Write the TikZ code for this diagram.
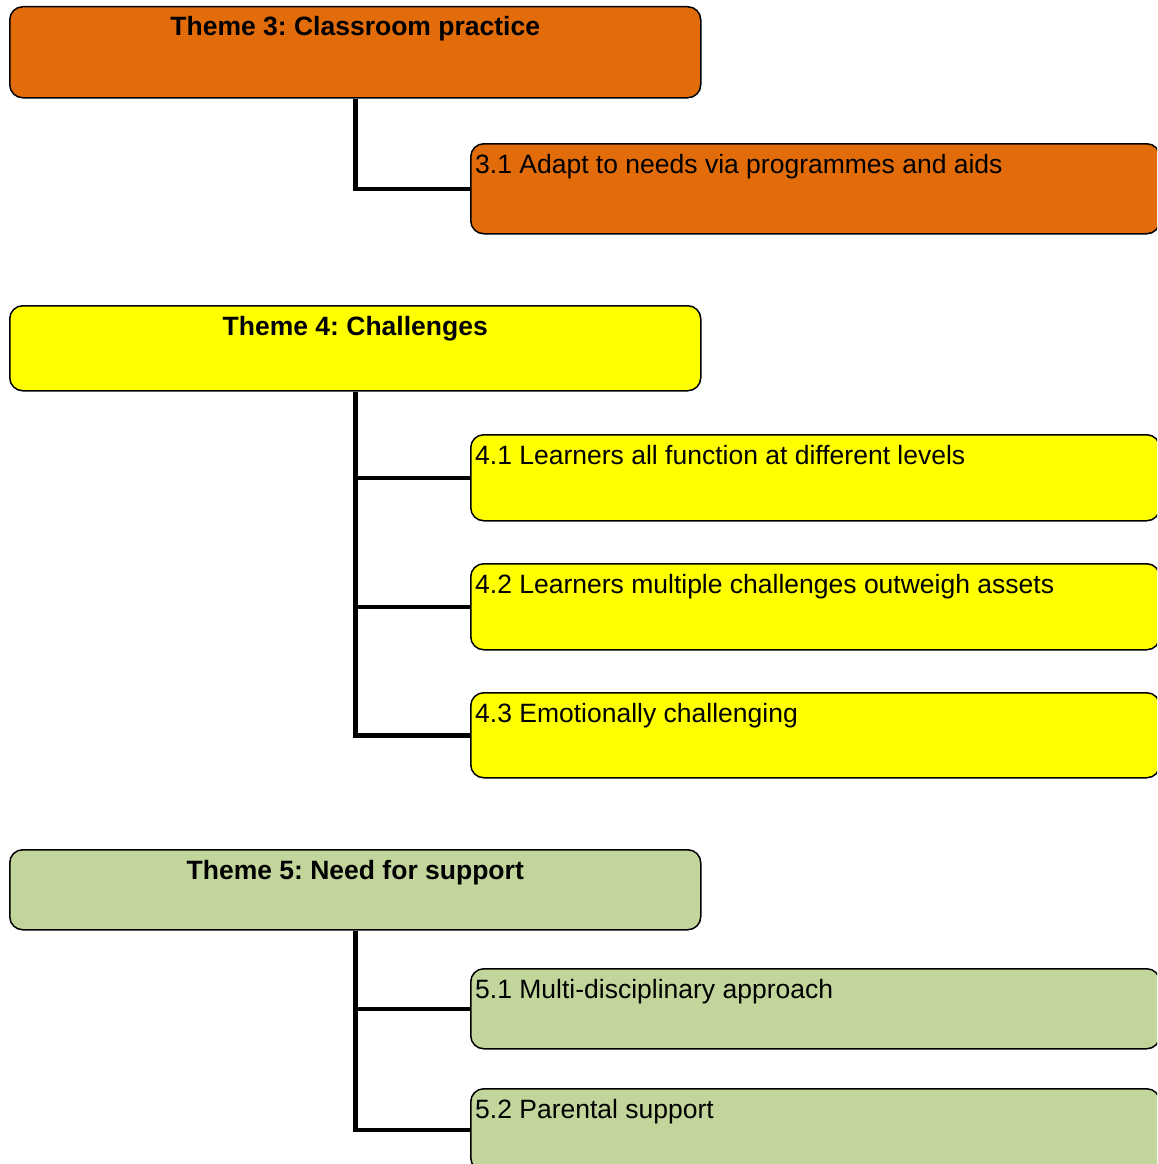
\documentclass[tikz,border=0pt]{standalone}
\usepackage{fontspec}
\setmainfont{Liberation Sans}
\definecolor{orangeT}{HTML}{E36C0A}
\definecolor{yellowT}{HTML}{FFFF00}
\definecolor{greenT}{HTML}{C2D69B}
\frenchspacing
\begin{document}
\begin{tikzpicture}[x=1pt,y=-1pt,
  box/.style={draw=black,line width=1.5pt,rounded corners=13pt,anchor=north west,inner sep=0pt,
    minimum width=691pt},
  sub/.style={draw=black,line width=1.5pt,rounded corners=13pt,anchor=north west,inner sep=0pt,
    minimum width=689pt},
  ttl/.style={anchor=base,inner sep=0pt,font=\fontsize{26.5}{30}\selectfont\bfseries},
  txt/.style={anchor=base west,inner sep=0pt,font=\fontsize{26.5}{30}\selectfont},
  conn/.style={line width=4.5pt,black}]
\clip (0,0) rectangle (1157,1164);
% Theme 3
\node[box,fill=orangeT,minimum height=91pt] (t3) at (9,6) {};
\node[sub,fill=orangeT,minimum height=90pt] (c31) at (470,143) {};
% Theme 4
\node[box,fill=yellowT,minimum height=85pt] (t4) at (9,305) {};
\node[sub,fill=yellowT,minimum height=86pt] (c41) at (470,434) {};
\node[sub,fill=yellowT,minimum height=86pt] (c42) at (470,563) {};
\node[sub,fill=yellowT,minimum height=85pt] (c43) at (470,692) {};
% Theme 5
\node[box,fill=greenT,minimum height=80pt] (t5) at (9,849) {};
\node[sub,fill=greenT,minimum height=80pt] (c51) at (470,968) {};
\node[sub,fill=greenT,minimum height=82pt] (c52) at (470,1088) {};
% connectors
\draw[conn] (t3.south) |- (c31.west);
\draw[conn] (t4.south) |- (c41.west);
\draw[conn] (t4.south) |- (c42.west);
\draw[conn] (t4.south) |- (c43.west);
\draw[conn] (t5.south) |- (c51.west);
\draw[conn] (t5.south) |- (c52.west);
% labels
\node[ttl] (l3) at ([yshift=-30pt]t3.north) {Theme 3: Classroom practice};
\node[txt] (l31) at ([xshift=5pt,yshift=-30.5pt]c31.north west) {3.1 Adapt to needs via programmes and aids};
\node[ttl] (l4) at ([yshift=-30pt]t4.north) {Theme 4: Challenges};
\node[txt] (l41) at ([xshift=5pt,yshift=-30.5pt]c41.north west) {4.1 Learners all function at different levels};
\node[txt] (l42) at ([xshift=5pt,yshift=-30.5pt]c42.north west) {4.2 Learners multiple challenges outweigh assets};
\node[txt] (l43) at ([xshift=5pt,yshift=-30.5pt]c43.north west) {4.3 Emotionally challenging};
\node[ttl] (l5) at ([yshift=-30pt]t5.north) {Theme 5: Need for support};
\node[txt] (l51) at ([xshift=5pt,yshift=-30.5pt]c51.north west) {5.1 Multi-disciplinary approach};
\node[txt] (l52) at ([xshift=5pt,yshift=-30.5pt]c52.north west) {5.2 Parental support};
\end{tikzpicture}
\end{document}
